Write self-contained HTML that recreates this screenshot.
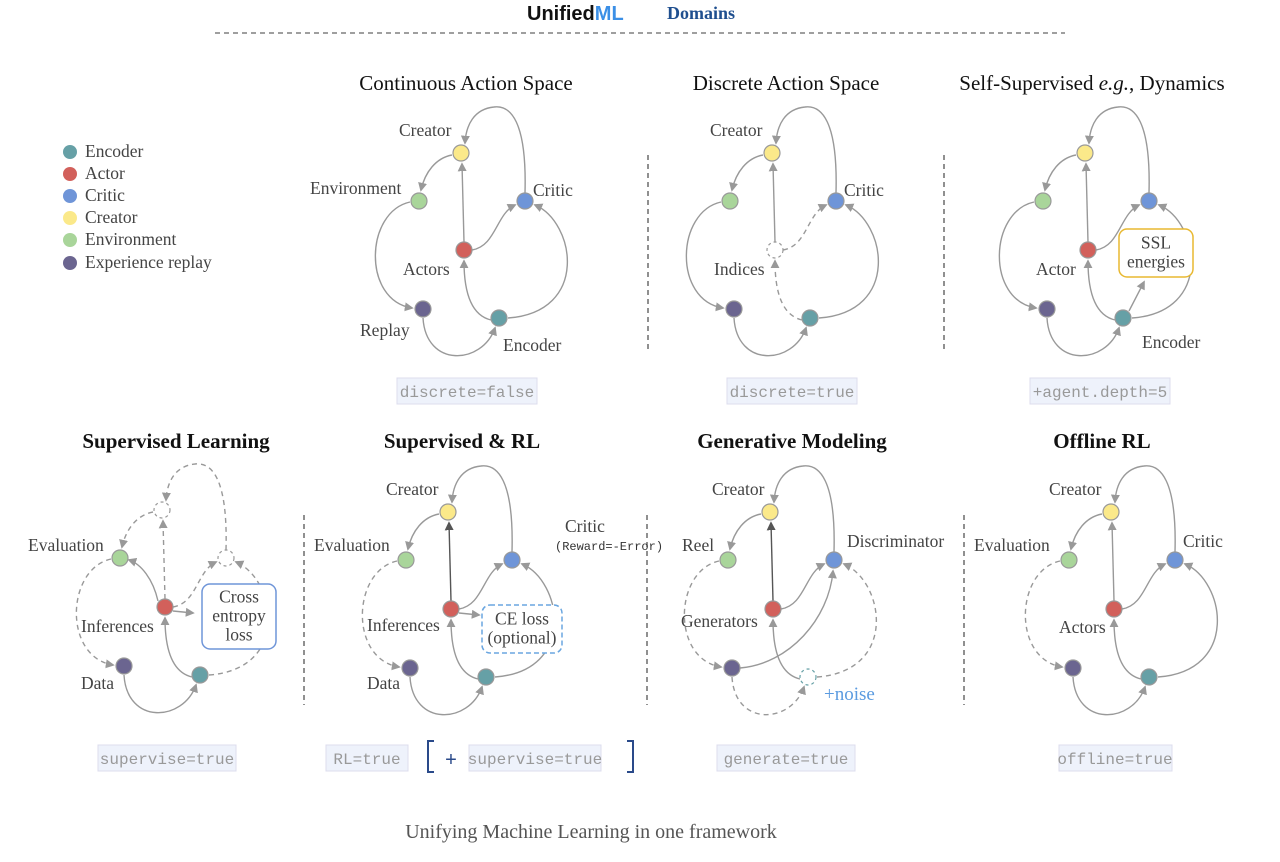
<!DOCTYPE html>
<html><head><meta charset="utf-8">
<style>
html,body{margin:0;padding:0;background:#fff;}
svg{display:block;}
.lbl{font-family:"Liberation Serif",serif;font-size:17.5px;fill:#444;}
.ttl{font-family:"Liberation Serif",serif;font-size:21px;fill:#111;text-anchor:middle;}
.tag{font-family:"Liberation Mono",monospace;font-size:16px;fill:#999;text-anchor:middle;}
</style></head>
<body>
<svg id="fig" width="1280" height="862" viewBox="0 0 1280 862" xmlns="http://www.w3.org/2000/svg">
<defs>
<marker id="ah" viewBox="0 0 10 10" refX="8" refY="5" markerWidth="9" markerHeight="9" markerUnits="userSpaceOnUse" orient="auto"><path d="M0,0 L10,5 L0,10 z" fill="#999"/></marker>
<marker id="ahk" viewBox="0 0 10 10" refX="8" refY="5" markerWidth="9" markerHeight="9" markerUnits="userSpaceOnUse" orient="auto"><path d="M0,0 L10,5 L0,10 z" fill="#555"/></marker>
</defs>
<g>
<text x="527" y="20" font-family="Liberation Sans,sans-serif" font-weight="bold" font-size="20" fill="#111">Unified<tspan fill="#3b8fe6">ML</tspan></text>
<text x="667" y="19" font-family="Liberation Serif,serif" font-weight="bold" font-size="18" fill="#1f4f8f">Domains</text>
<line x1="215" y1="33" x2="1065" y2="33" stroke="#666" stroke-width="1.2" stroke-dasharray="5,4"/>
</g>
<g>
<g><circle cx="70" cy="152" r="7" fill="#66a0a6"/><text class="lbl" x="85" y="157">Encoder</text></g>
<g><circle cx="70" cy="174" r="7" fill="#d2605b"/><text class="lbl" x="85" y="179">Actor</text></g>
<g><circle cx="70" cy="196" r="7" fill="#6f95d8"/><text class="lbl" x="85" y="201">Critic</text></g>
<g><circle cx="70" cy="218" r="7" fill="#fbe98a"/><text class="lbl" x="85" y="223">Creator</text></g>
<g><circle cx="70" cy="240" r="7" fill="#a9d59a"/><text class="lbl" x="85" y="245">Environment</text></g>
<g><circle cx="70" cy="263" r="7" fill="#6b6590"/><text class="lbl" x="85" y="268">Experience replay</text></g>
</g>
<g>
<text class="ttl" x="466" y="90">Continuous Action Space</text>
<text class="ttl" x="786" y="90">Discrete Action Space</text>
<text class="ttl" x="1092" y="90">Self-Supervised <tspan font-style="italic">e.g.</tspan>, Dynamics</text>
<text class="ttl" x="176" y="448" font-weight="bold">Supervised Learning</text>
<text class="ttl" x="462" y="448" font-weight="bold">Supervised &amp; RL</text>
<text class="ttl" x="792" y="448" font-weight="bold">Generative Modeling</text>
<text class="ttl" x="1102" y="448" font-weight="bold">Offline RL</text>
</g>
<g stroke="#555" stroke-width="1.3" stroke-dasharray="5,4">
<line x1="648" y1="155" x2="648" y2="350"/><line x1="944" y1="155" x2="944" y2="350"/>
<line x1="304" y1="515" x2="304" y2="705"/><line x1="647" y1="515" x2="647" y2="705"/><line x1="964" y1="515" x2="964" y2="705"/>
</g>
<g id="panels"></g>
<g>
<g><rect x="397" y="378" width="140" height="26" fill="#eef2fb" stroke="#dde"/><text class="tag" x="467" y="397">discrete=false</text></g>
<g><rect x="727" y="378" width="130" height="26" fill="#eef2fb" stroke="#dde"/><text class="tag" x="792" y="397">discrete=true</text></g>
<g><rect x="1030" y="378" width="140" height="26" fill="#eef2fb" stroke="#dde"/><text class="tag" x="1100" y="397">+agent.depth=5</text></g>
<g><rect x="98" y="745" width="138" height="26" fill="#eef2fb" stroke="#dde"/><text class="tag" x="167" y="764">supervise=true</text></g>
<g><rect x="326" y="745" width="82" height="26" fill="#eef2fb" stroke="#dde"/><text class="tag" x="367" y="764">RL=true</text></g>
<g fill="none" stroke="#2a4a8a" stroke-width="2"><path d="M434,741 L428,741 L428,772 L434,772"/><path d="M627,741 L633,741 L633,772 L627,772"/></g>
<text x="451" y="766" font-family="Liberation Sans,sans-serif" font-size="20" fill="#2a4a8a" text-anchor="middle">+</text>
<g><rect x="469" y="745" width="132" height="26" fill="#eef2fb" stroke="#dde"/><text class="tag" x="535" y="764">supervise=true</text></g>
<g><rect x="717" y="745" width="138" height="26" fill="#eef2fb" stroke="#dde"/><text class="tag" x="786" y="764">generate=true</text></g>
<g><rect x="1059" y="745" width="113" height="26" fill="#eef2fb" stroke="#dde"/><text class="tag" x="1115" y="764">offline=true</text></g>
</g>
<text x="591" y="838" font-family="Liberation Serif,serif" font-size="20" fill="#555" text-anchor="middle">Unifying Machine Learning in one framework</text>
</svg>
<script>
const NS="http://www.w3.org/2000/svg";
const EDGES={
 criticCreator:"M525,193 C527,120 510,105 494,107 C474,109 466,125 465,143",
 creatorEnv:"M452,155 C436,158 425,172 421,190",
 envReplay:"M410,202 C365,212 362,300 412,308",
 replayEncoder:"M423,318 C426,368 482,365 495,328",
 encoderActor:"M491,320 C470,315 464,290 464,261",
 encoderCritic:"M508,318 C590,312 575,222 535,205",
 actorCreator:"M464,242 L462,164",
 actorCritic:"M472,250 C496,246 496,214 515,205",
 actorEval:"M457,244 C452,222 440,207 428,203",
 replayCritic:"M431,309 C480,305 520,260 524,212",
 actorBox:"M472,254 L492,256",
 encoderSSL:"M505,311 L520,282"
};
const COL={creator:"#fbe98a",env:"#a9d59a",critic:"#6f95d8",actor:"#d2605b",replay:"#6b6590",encoder:"#66a0a6"};
const POS={creator:[461,153],env:[419,201],critic:[525,201],actor:[464,250],replay:[423,309],encoder:[499,318]};
const PANELS=[
 {n:"continuous",dx:0,dy:0,e:[["criticCreator","s"],["creatorEnv","s"],["envReplay","s"],["replayEncoder","s"],["encoderActor","s"],["encoderCritic","s"],["actorCreator","s"],["actorCritic","s"]],ghost:[],
  labels:[["Creator",399,136],["Environment",310,194],["Critic",533,196],["Actors",403,275],["Replay",360,336],["Encoder",503,351]]},
 {n:"discrete",dx:311,dy:0,e:[["criticCreator","s"],["creatorEnv","s"],["envReplay","s"],["replayEncoder","s"],["encoderActor","d"],["encoderCritic","s"],["actorCreator","s"],["actorCritic","d"]],ghost:["actor"],
  labels:[["Creator",399,136],["Critic",533,196],["Indices",403,275]]},
 {n:"self-supervised",dx:624,dy:0,e:[["criticCreator","s"],["creatorEnv","s"],["envReplay","s"],["replayEncoder","s"],["encoderActor","s"],["encoderCritic","s"],["actorCreator","s"],["actorCritic","s"],["encoderSSL","s"]],ghost:[],
  labels:[["Actor",412,275],["Encoder",518,348]],box:[495,229,74,48,"#e8b830",false,["SSL","energies"]]},
 {n:"supervised",dx:-299,dy:357,e:[["criticCreator","d"],["creatorEnv","d"],["envReplay","d"],["replayEncoder","s"],["encoderActor","s"],["encoderCritic","d"],["actorCreator","d"],["actorCritic","d"],["actorEval","s"],["actorBox","s"]],ghost:["creator","critic"],
  labels:[["Evaluation",327,194],["Inferences",380,275],["Data",380,332]],box:[501,227,74,65,"#6f95d8",false,["Cross","entropy","loss"]]},
 {n:"supervised-rl",dx:-13,dy:359,e:[["criticCreator","s"],["creatorEnv","s"],["envReplay","d"],["replayEncoder","s"],["encoderActor","s"],["encoderCritic","s"],["actorCreator","k"],["actorCritic","s"],["actorBox","s"]],ghost:[],
  labels:[["Creator",399,136],["Evaluation",327,192],["Inferences",380,272],["Data",380,330],["Critic",578,173]],box:[495,246,80,48,"#6aa6e0",true,["CE loss","(optional)"]],mono:["(Reward=-Error)",568,191]},
 {n:"generative",dx:309,dy:359,e:[["criticCreator","s"],["creatorEnv","s"],["envReplay","d"],["replayEncoder","d"],["encoderActor","s"],["encoderCritic","d"],["actorCreator","k"],["actorCritic","s"],["replayCritic","s"]],ghost:["encoder"],
  labels:[["Creator",403,136],["Reel",373,192],["Discriminator",538,188],["Generators",372,268]],blue:["+noise",515,341]},
 {n:"offline",dx:650,dy:359,e:[["criticCreator","s"],["creatorEnv","s"],["envReplay","d"],["replayEncoder","s"],["encoderActor","s"],["encoderCritic","s"],["actorCreator","s"],["actorCritic","s"]],ghost:[],
  labels:[["Creator",399,136],["Evaluation",324,192],["Critic",533,188],["Actors",409,274]]}
];
const root=document.getElementById("panels");
PANELS.forEach(p=>{
 const g=document.createElementNS(NS,"g");
 g.setAttribute("transform",`translate(${p.dx},${p.dy})`);
 
 
 root.appendChild(g);
 p.e.forEach(([k,s])=>{
  const pa=document.createElementNS(NS,"path");
  pa.setAttribute("d",EDGES[k]);
  pa.setAttribute("fill","none");
  pa.setAttribute("stroke",s==="k"?"#555":"#999");
  pa.setAttribute("stroke-width","1.4");
  if(s==="d")pa.setAttribute("stroke-dasharray","5,4");
  pa.setAttribute("marker-end",s==="k"?"url(#ahk)":"url(#ah)");
  
  
  g.appendChild(pa);
 });
 Object.keys(POS).forEach(k=>{
  const c=document.createElementNS(NS,"circle");
  c.setAttribute("cx",POS[k][0]);c.setAttribute("cy",POS[k][1]);c.setAttribute("r","8");
  if(p.ghost.includes(k)){c.setAttribute("fill","#fff");c.setAttribute("stroke",p.n==="generative"?"#66a0a6":"#999");c.setAttribute("stroke-dasharray","3,3");}
  else{c.setAttribute("fill",COL[k]);c.setAttribute("stroke","#999");}
  c.setAttribute("stroke-width","1.2");
  
  
  g.appendChild(c);
 });
 p.labels.forEach(([t,x,y])=>{
  const tx=document.createElementNS(NS,"text");
  tx.setAttribute("x",x);tx.setAttribute("y",y);tx.setAttribute("class","lbl");
  tx.textContent=t;
  
  
  g.appendChild(tx);
 });
 if(p.box){
  const [x,y,w,h,col,dash,lines]=p.box;
  const r=document.createElementNS(NS,"rect");
  r.setAttribute("x",x);r.setAttribute("y",y);r.setAttribute("width",w);r.setAttribute("height",h);
  r.setAttribute("rx","8");r.setAttribute("fill","#fff");r.setAttribute("stroke",col);r.setAttribute("stroke-width","1.5");
  if(dash)r.setAttribute("stroke-dasharray","5,3");
  
  
  g.appendChild(r);
  const lh=19, top=y+h/2-(lines.length-1)*lh/2+5;
  lines.forEach((t,i)=>{
   const tx=document.createElementNS(NS,"text");
   tx.setAttribute("x",x+w/2);tx.setAttribute("y",top+i*lh);tx.setAttribute("class","lbl");tx.setAttribute("text-anchor","middle");
   tx.textContent=t;
   
   
   g.appendChild(tx);
  });
 }
 if(p.mono){
  const tx=document.createElementNS(NS,"text");
  tx.setAttribute("x",p.mono[1]);tx.setAttribute("y",p.mono[2]);
  tx.setAttribute("font-family","Liberation Mono,monospace");tx.setAttribute("font-size","12");tx.setAttribute("fill","#333");
  tx.textContent=p.mono[0];
  
  
  g.appendChild(tx);
 }
 if(p.blue){
  const tx=document.createElementNS(NS,"text");
  tx.setAttribute("x",p.blue[1]);tx.setAttribute("y",p.blue[2]);
  tx.setAttribute("font-family","Liberation Serif,serif");tx.setAttribute("font-size","19");tx.setAttribute("fill","#5b9be0");
  tx.textContent=p.blue[0];
  
  
  g.appendChild(tx);
 }
});
</script>
</body></html>
